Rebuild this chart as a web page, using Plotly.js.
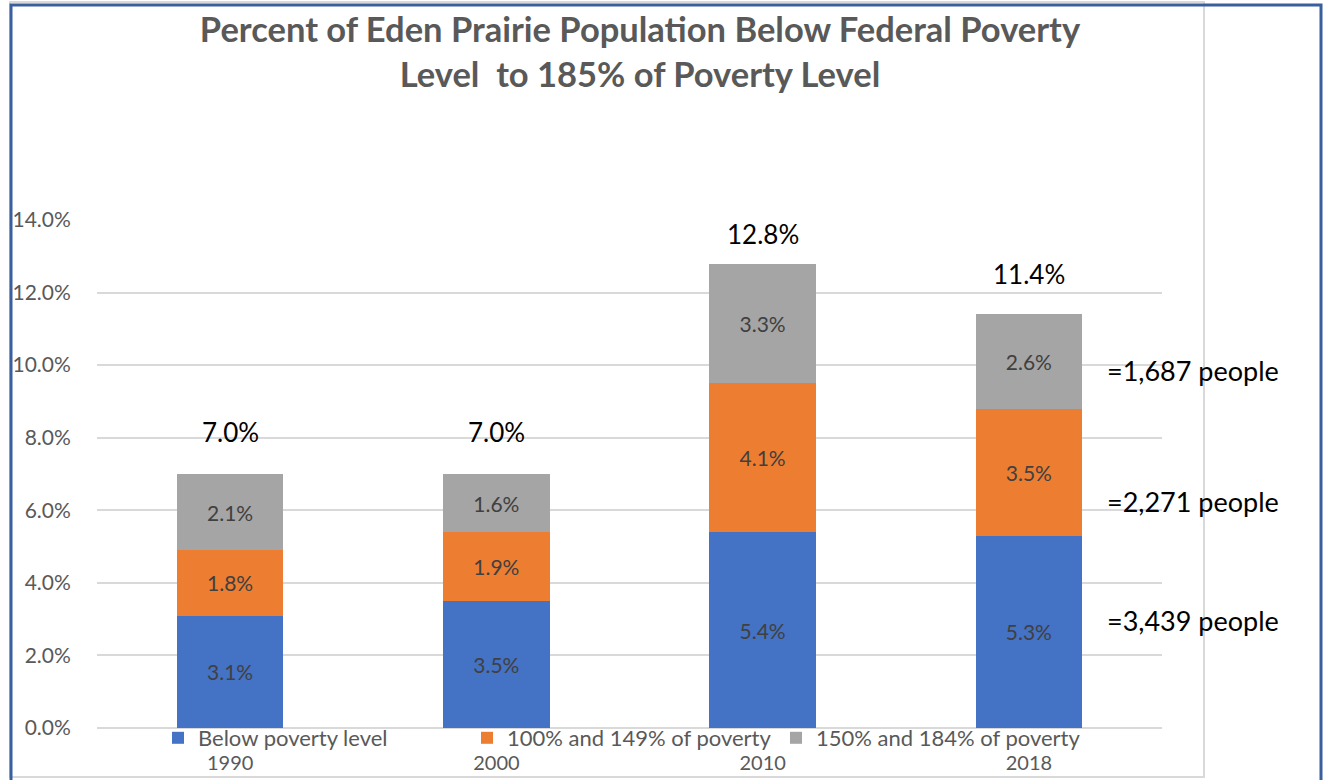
<!DOCTYPE html>
<html>
<head>
<meta charset="utf-8">
<script src="https://cdn.plot.ly/plotly-3.0.1.min.js"></script>
<style>html,body{margin:0;padding:0;background:#fff;}#chart{width:1324px;height:780px;}</style>
</head>
<body>
<div id="chart"></div>
<script>
var years = ['1990', '2000', '2010', '2018'];
var belowPoverty = [3.1, 3.5, 5.4, 5.3];
var pov100to149 = [1.8, 1.9, 4.1, 3.5];
var pov150to184 = [2.1, 1.6, 3.3, 2.6];
var totals = [7.0, 7.0, 12.8, 11.4];
var seriesNames = ['Below poverty level', '100% and 149% of poverty', '150% and 184% of poverty'];
var seriesColors = ['#4472C4', '#ED7D31', '#A5A5A5'];
var peopleLabels = ['=3,439 people', '=2,271 people', '=1,687 people'];
var peopleLabelY = [2.95, 6.25, 9.86];
var totalLabelShift = [24, 24, 12, 22];

var FONT = 'Lato, "Open Sans", sans-serif';
var series = [belowPoverty, pov100to149, pov150to184];
var traces = series.map(function (vals, i) {
  return {
    type: 'bar',
    x: years,
    y: vals,
    name: seriesNames[i],
    marker: {color: seriesColors[i]},
    text: vals.map(function (v) { return v.toFixed(1) + '%'; }),
    textposition: 'inside',
    insidetextanchor: 'middle',
    textfont: {family: FONT, size: 21, color: '#404040'}
  };
});

var L = 97, R = 162, T = 220, B = 52, W = 1324, H = 780;
var pw = W - L - R, ph = H - T - B;
function px(x) { return (x - L) / pw; }
function py(y) { return (H - B - y) / ph; }

var annotations = years.map(function (yr, i) {
  return {
    x: i, y: totals[i], xref: 'x', yref: 'y',
    text: totals[i].toFixed(1) + '%', showarrow: false,
    yanchor: 'bottom', yshift: totalLabelShift[i],
    font: {family: FONT, size: 26, color: '#000000'}
  };
});
peopleLabels.forEach(function (t, i) {
  annotations.push({
    x: px(1105), xref: 'paper', y: peopleLabelY[i], yref: 'y',
    text: t, showarrow: false, xanchor: 'left', yanchor: 'middle',
    font: {family: FONT, size: 27, color: '#000000'}
  });
});

var layout = {
  width: W, height: H,
  margin: {l: L, r: R, t: T, b: B, pad: 0},
  paper_bgcolor: '#ffffff', plot_bgcolor: '#ffffff',
  barmode: 'stack', bargap: 0.6,
  title: {
    text: '<b>Percent of Eden Prairie Population Below Federal Poverty<br>Level  to 185% of Poverty Level</b>',
    font: {family: FONT, size: 34.5, color: '#595959'},
    x: 640 / W, xanchor: 'center', y: 0.946, yanchor: 'top', yref: 'container'
  },
  xaxis: {
    type: 'category', range: [-0.5, 3.5], showgrid: false, zeroline: false, showline: false,
    ticks: 'outside', ticklen: 17, tickcolor: 'rgba(0,0,0,0)',
    tickfont: {family: FONT, size: 20, color: '#595959'}
  },
  yaxis: {
    range: [0, 14], dtick: 2, tickformat: '.1f', ticksuffix: '%',
    showgrid: true, gridcolor: '#D9D9D9', gridwidth: 1.5,
    zeroline: true, zerolinecolor: '#D9D9D9', zerolinewidth: 1.5,
    showline: false, ticks: 'outside', ticklen: 21, tickcolor: 'rgba(0,0,0,0)',
    tickfont: {family: FONT, size: 21, color: '#595959'}
  },
  showlegend: true,
  legend: {
    orientation: 'h', x: px(158), xanchor: 'left', y: py(717), yanchor: 'top',
    font: {family: FONT, size: 22, color: '#595959'},
    entrywidth: 264, entrywidthmode: 'pixels', itemwidth: 30,
    bgcolor: 'rgba(0,0,0,0)', traceorder: 'normal'
  },
  annotations: annotations,
  shapes: [
    {type: 'rect', xref: 'paper', yref: 'paper', x0: px(10), x1: px(1204), y0: py(777), y1: py(2),
     line: {color: '#D9D9D9', width: 2}, fillcolor: 'rgba(0,0,0,0)', layer: 'above'},
    {type: 'rect', xref: 'paper', yref: 'paper', x0: px(11), x1: px(1321), y0: py(784), y1: py(5),
     line: {color: '#3A5F9E', width: 3}, fillcolor: 'rgba(0,0,0,0)', layer: 'above'}
  ]
};

Plotly.newPlot('chart', traces, layout, {displayModeBar: false});
</script>
</body>
</html>
